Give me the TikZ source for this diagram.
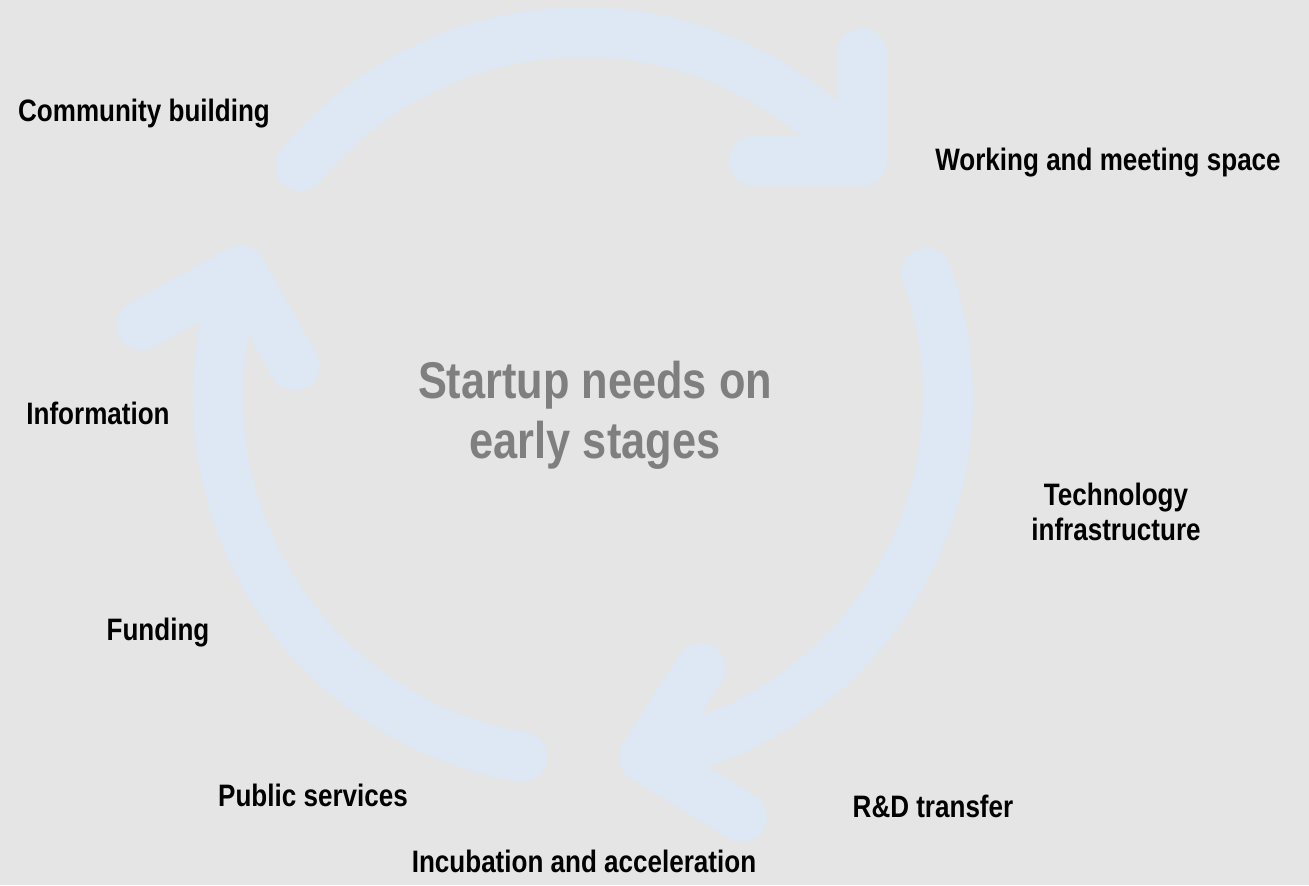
\documentclass[tikz,border=0pt]{standalone}
\usepackage{fontspec}
\setmainfont{Liberation Sans}[FakeStretch=0.84]
\usepackage{tikz}

\definecolor{bggrey}{HTML}{E5E5E5}
\definecolor{arrowblue}{HTML}{DDE8F4}
\definecolor{titlegrey}{HTML}{7F7F7F}

\tikzset{
	need/.style={font=\fontsize{15.5}{17.5}\selectfont\bfseries, align=center, text=black},
	headline/.style={font=\fontsize{25.8}{30}\selectfont\bfseries, align=center, text=titlegrey},
	cyclearrow/.style={draw=arrowblue, line width=25pt, line cap=round, line join=round}
}

\begin{document}
\begin{tikzpicture}[x=0.5pt, y=-0.5pt]
	\fill[bggrey] (0,0) rectangle (1309,885);
	\useasboundingbox (0,0) rectangle (1309,885);
	\coordinate (c) at (583,397);

	\draw[cyclearrow] (c) ++(-140.8:365) arc[start angle=-140.8, end angle=-40.2, radius=365] coordinate (tipa);
	\draw[cyclearrow] (tipa) ++(0,-108) -- (tipa) -- ++(-108,0);

	\draw[cyclearrow] (c) ++(-19.9:365) arc[start angle=-19.9, end angle=80.4, radius=365] coordinate (tipb);
	\draw[cyclearrow] (tipb) ++(57,-89) -- (tipb) -- ++(98,60);

	\draw[cyclearrow] (c) ++(99.6:365) arc[start angle=99.6, end angle=200.3, radius=365] coordinate (tipc);
	\draw[cyclearrow] (tipc) ++(-99,55) -- (tipc) -- ++(54,95);

	\node[headline] (startup) at (595,415) {Startup needs on\\early stages};

	\node[need] (community) at (144,114) {Community building};
	\node[need] (working) at (1108,163) {Working and meeting space};
	\node[need] (information) at (98,413) {Information};
	\node[need] (technology) at (1116,512) {Technology\\infrastructure};
	\node[need] (funding) at (158,633) {Funding};
	\node[need] (public) at (313,795) {Public services};
	\node[need] (rnd) at (933,806) {R\&D transfer};
	\node[need] (incubation) at (584,861) {Incubation and acceleration};
\end{tikzpicture}
\end{document}
